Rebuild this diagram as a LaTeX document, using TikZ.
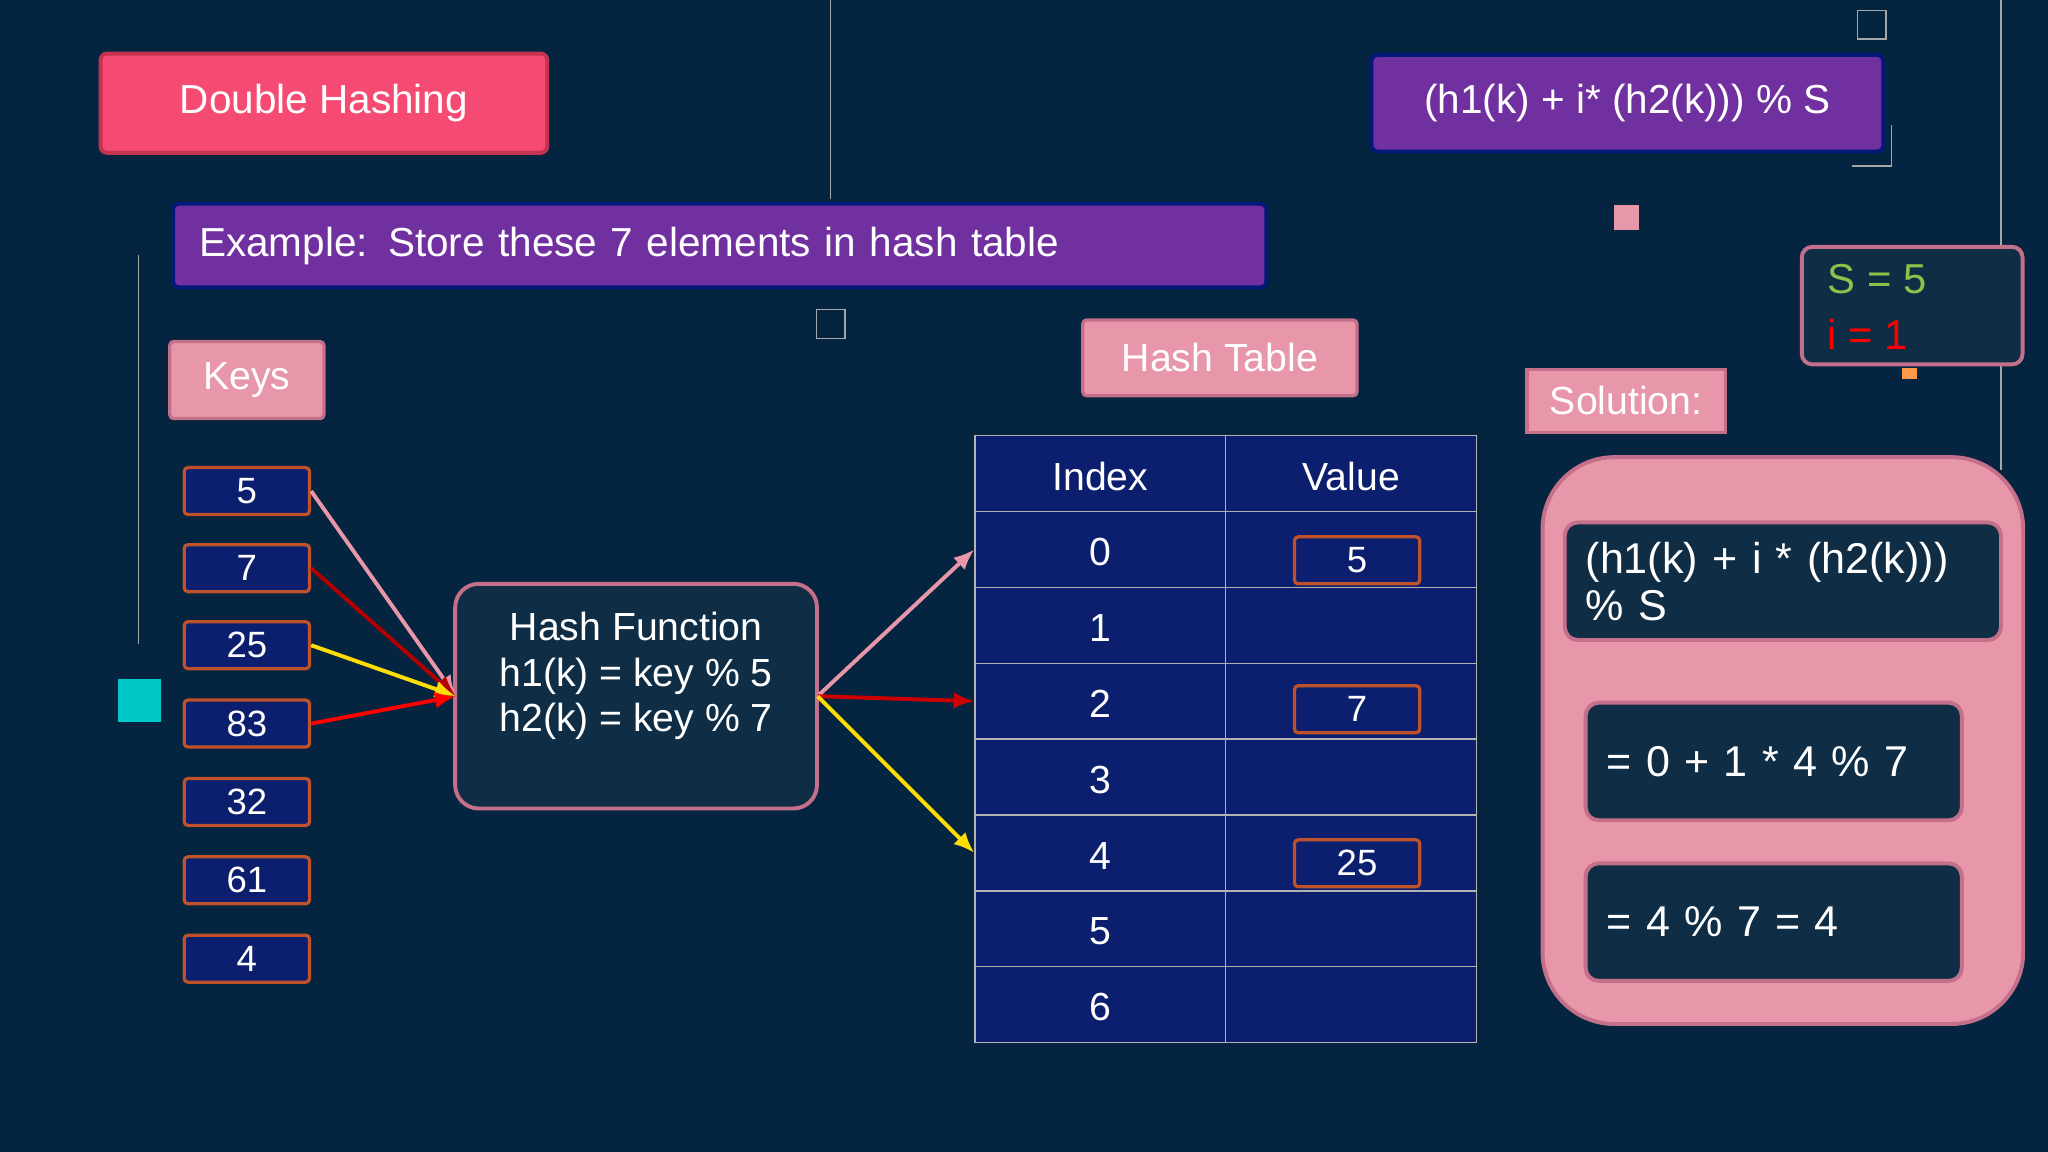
\documentclass[tikz,border=0pt]{standalone}
\usepackage{fontspec}
\setmainfont{Liberation Sans}
\usetikzlibrary{arrows.meta}
\definecolor{bg}{HTML}{05243F}
\definecolor{hot}{HTML}{F54A72}
\definecolor{hotb}{HTML}{C43350}
\definecolor{purp}{HTML}{7030A0}
\definecolor{lp}{HTML}{E896AA}
\definecolor{lpb}{HTML}{C4708A}
\definecolor{tab}{HTML}{0B1F6E}
\definecolor{keyb}{HTML}{C0522B}
\definecolor{dk}{HTML}{0F2D45}
\definecolor{grn}{HTML}{8BC34A}
\definecolor{cy}{HTML}{00C8C8}
\begin{document}
\begin{tikzpicture}[x=1pt,y=-1pt,
 txt/.style={font=\fontsize{28}{32}\selectfont,text=white},
 big/.style={font=\fontsize{30}{34}\selectfont,text=white},
 key/.style={draw=keyb,line width=2.5pt,fill=tab,rounded corners=3pt,minimum width=96pt,minimum height=36pt,inner sep=0pt,txt},
 lbl/.style={draw=lpb,line width=2.5pt,fill=lp,rounded corners=3pt,inner sep=0pt,big},
 dbox/.style={draw=lpb,line width=3pt,fill=dk,rounded corners=12pt},
 arr/.style={line width=3pt,-{Latex[length=16pt,width=13pt]}}]
\useasboundingbox[fill=bg] (0,0) rectangle (1568,882);
% decorations
\draw[gray!70,line width=1pt] (636,0) -- (636,152) (106,195) -- (106,493) (1532,0) -- (1532,360);
\draw[gray!70,line width=1.2pt] (1422,8) rectangle (1444,30) (625,237) rectangle (647,259);
\draw[gray!70,line width=1.2pt] (1448,96) -- (1448,127) -- (1418,127);
\fill[lp] (1236,157) rectangle (1255,176);
\fill[cy] (90,520) rectangle (123,553);
\fill[orange!60!pink] (1456,282) rectangle (1468,290);
% titles
\node[draw=hotb,line width=3pt,fill=hot,rounded corners=5pt,minimum width=342pt,minimum height=76pt,big,font=\fontsize{31}{34}\selectfont] (dh) at (248,79) {Double Hashing};
\node[draw=blue!30!bg,line width=3pt,fill=purp,rounded corners=5pt,minimum width=392pt,minimum height=74pt,big,font=\fontsize{31}{34}\selectfont] (fm) at (1246,79) {(h1(k) + i* (h2(k))) \% S};
\node[draw=blue!30!bg,line width=3pt,fill=purp,rounded corners=4pt,minimum width=837pt,minimum height=64pt,big,font=\fontsize{31}{34}\selectfont,text width=797pt,align=left] (ex) at (551,188) {Example: Store these 7 elements in hash table};
\node[lbl,minimum width=118pt,minimum height=59pt] (keys) at (189,291) {Keys};
\node[lbl,minimum width=210pt,minimum height=58pt] (ht) at (934,274) {Hash Table};
\node[lbl,rounded corners=0pt,minimum width=152pt,minimum height=48pt] (sol) at (1245,307) {Solution:};
% keys
\foreach \v/\y/\n in {5/376/k1,7/435/k2,25/494/k3,83/554/k4,32/614/k5,61/674/k6,4/734/k7}
  \node[key] (\n) at (189,\y) {\v};
% hash function
\node[dbox,minimum width=277pt,minimum height=172pt,rounded corners=18pt] (hf) at (487,533) {};
\node[align=center,big,anchor=north] (hft) at (487,465) {Hash Function\\[1pt]h1(k) = key \% 5\\[1pt]h2(k) = key \% 7};
% table
\foreach \i in {0,...,7} {
  \pgfmathsetmacro\yy{333+58.1*\i}
  \node[draw=gray!60,line width=1pt,fill=tab,minimum width=192pt,minimum height=58.1pt,inner sep=0pt,anchor=north west] (i\i) at (746,\yy) {};
  \node[draw=gray!60,line width=1pt,fill=tab,minimum width=192pt,minimum height=58.1pt,inner sep=0pt,anchor=north west] (v\i) at (938,\yy) {};
}
\node[big] at ([yshift=-2pt]i0) {Index}; \node[big] at ([yshift=-2pt]v0) {Value};
\foreach \i/\t in {1/0,2/1,3/2,4/3,5/4,6/5,7/6} \node[big] at ([yshift=-2pt]i\i) {\t};
\node[key] (b5) at (1039,429) {5};
\node[key] (b7) at (1039,543) {7};
\node[key] (b25) at (1039,661) {25};
% arrows
\coordinate (hin) at (349,533);
\coordinate (hout) at (626,533);
\draw[arr,lp] (k1.east) -- (hin);
\draw[arr,red!70!black] (k2.east) -- (hin);
\draw[arr,yellow!80!orange] (k3.east) -- (hin);
\draw[arr,red] (k4.east) -- (hin);
\draw[arr,lp] (hout) -- (i1.west);
\draw[arr,red!80!black] (hout) -- (i3.west);
\draw[arr,yellow!80!orange] (hout) -- (i5.west);
% S,i
\node[draw=lpb,line width=3pt,fill=dk,rounded corners=8pt,minimum width=169pt,minimum height=90pt] (si) at (1464,234) {};
\node[font=\fontsize{32}{34}\selectfont,text=grn,anchor=west] (s5) at (1396,214) {S = 5};
\node[font=\fontsize{32}{34}\selectfont,text=red,anchor=west] (i1v) at (1396,256) {i = 1};
% solution
\node[draw=lpb,line width=3pt,fill=lp,rounded corners=55pt,minimum width=368pt,minimum height=434pt] (bigbox) at (1365,567) {};
\node[draw=lpb,line width=3pt,fill=dk,rounded corners=10pt,minimum width=334pt,minimum height=90pt,font=\fontsize{33}{38}\selectfont,text=white,text width=302pt,align=left] (s1) at (1365,445) {(h1(k) + i * (h2(k)))\\[-2pt]\% S};
\node[draw=lpb,line width=3pt,fill=dk,rounded corners=10pt,minimum width=288pt,minimum height=90pt,font=\fontsize{33}{38}\selectfont,text=white,text width=256pt,align=left] (s2) at (1358,583) {= 0 + 1 * 4 \% 7};
\node[draw=lpb,line width=3pt,fill=dk,rounded corners=10pt,minimum width=288pt,minimum height=90pt,font=\fontsize{33}{38}\selectfont,text=white,text width=256pt,align=left] (s3) at (1358,706) {= 4 \% 7 = 4};
\end{tikzpicture}
\end{document}
